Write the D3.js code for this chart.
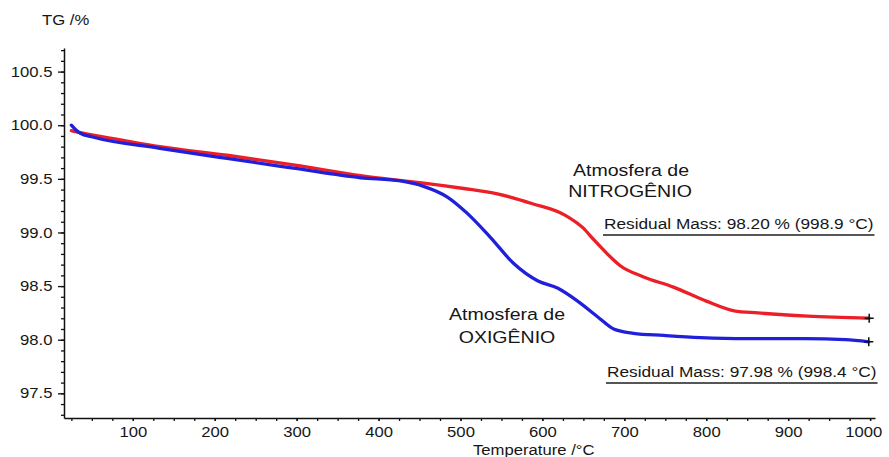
<!DOCTYPE html>
<html>
<head>
<meta charset="utf-8">
<script src="https://cdn.jsdelivr.net/npm/d3@7/dist/d3.min.js"></script>
<style>
  html, body { margin: 0; padding: 0; background: #fff; }
  svg { display: block; font-family: "Liberation Sans", Arial, Helvetica, sans-serif; }
  text { fill: #161616; }
</style>
</head>
<body>
<svg id="chart" width="889" height="457"></svg>
<script>
// TG curves: mass (%) against temperature (°C) in two atmospheres
const nitrogenTemp = [25, 30, 36, 50, 80, 133, 215, 296, 378, 420, 455, 504, 545, 587, 628, 650, 663, 678, 695, 722, 760, 800, 834, 863, 924, 998.9];
const nitrogenMass = [99.95, 99.94, 99.93, 99.91, 99.87, 99.80, 99.72, 99.63, 99.53, 99.49, 99.46, 99.41, 99.36, 99.27, 99.16, 99.04, 98.93, 98.81, 98.69, 98.59, 98.49, 98.36, 98.27, 98.25, 98.22, 98.20];

const oxygenTemp = [25, 30, 36, 51, 133, 215, 296, 378, 427, 455, 484, 508, 537, 565, 594, 619, 643, 668, 687, 711, 748, 793, 850, 920, 970, 998.4];
const oxygenMass = [100.00, 99.96, 99.925, 99.89, 99.785, 99.69, 99.60, 99.51, 99.48, 99.43, 99.33, 99.18, 98.95, 98.71, 98.55, 98.48, 98.36, 98.21, 98.10, 98.06, 98.04, 98.02, 98.01, 98.01, 98.00, 97.98];

// residual mass readouts at the end of each run
const residualTemp = [998.9, 998.4];
const residualMass = [98.20, 97.98];

const tempTicks = [100, 200, 300, 400, 500, 600, 700, 800, 900, 1000];
const massTicks = [97.5, 98.0, 98.5, 99.0, 99.5, 100.0, 100.5];

const STRETCH = 1.15;
const svg = d3.select("#chart");

const x = d3.scaleLinear().domain([16, 1006]).range([64, 875]);
const y = d3.scaleLinear().domain([97.27, 100.72]).range([418, 48]);

// minor ticks
const tempMinor = d3.range(25, 1001, 25);
const massMinor = d3.range(973, 1008).map(v => v / 10);

svg.append("g")
  .attr("transform", `translate(0,${y.range()[0]})`)
  .call(d3.axisBottom(x).tickValues(tempMinor).tickSize(3).tickSizeOuter(0).tickFormat(""))
  .call(g => g.select(".domain").remove())
  .call(g => g.selectAll("line").attr("stroke", "#111").attr("stroke-width", 1.3));

svg.append("g")
  .attr("transform", `translate(${x.range()[0]},0)`)
  .call(d3.axisLeft(y).tickValues(massMinor).tickSize(3).tickSizeOuter(0).tickFormat(""))
  .call(g => g.select(".domain").remove())
  .call(g => g.selectAll("line").attr("stroke", "#111").attr("stroke-width", 1.3));

// major axes
const xAxis = svg.append("g")
  .attr("transform", `translate(0,${y.range()[0]})`)
  .call(d3.axisBottom(x).tickValues(tempTicks).tickSize(3).tickSizeOuter(0).tickPadding(6).tickFormat(d3.format("d")));
xAxis.selectAll("text")
  .style("font-size", "14.5px")
  .attr("fill", "#161616")
  .attr("transform", `scale(${STRETCH},1)`)
  .attr("x", d => d === 1000 ? -6 : 0);

const yAxis = svg.append("g")
  .attr("transform", `translate(${x.range()[0]},0)`)
  .call(d3.axisLeft(y).tickValues(massTicks).tickSize(6).tickSizeOuter(0).tickPadding(4).tickFormat(d3.format(".1f")));
yAxis.selectAll("text")
  .style("font-size", "14.5px")
  .attr("fill", "#161616")
  .attr("transform", `scale(${STRETCH},1)`);

[xAxis, yAxis].forEach(a => {
  a.select(".domain").attr("stroke", "#111").attr("stroke-width", 1.5);
  a.selectAll("line").attr("stroke", "#111").attr("stroke-width", 1.3);
});

function label(px, py, str, size, anchor) {
  return svg.append("text")
    .attr("transform", `translate(${px},${py}) scale(${STRETCH},1)`)
    .attr("text-anchor", anchor || "start")
    .style("font-size", size + "px")
    .text(str);
}

// axis titles
label(42, 25, "TG /%", 14.5);
label(473, 455, "Temperature /°C", 14.5);

// curves
const line = d3.line()
  .x(d => x(d[0]))
  .y(d => y(d[1]))
  .curve(d3.curveMonotoneX);

const series = [
  { temp: nitrogenTemp, mass: nitrogenMass, color: "#ec1f27" },
  { temp: oxygenTemp, mass: oxygenMass, color: "#1f1fdc" }
];

series.forEach(s => {
  svg.append("path")
    .datum(s.temp.map((t, i) => [t, s.mass[i]]))
    .attr("fill", "none")
    .attr("stroke", s.color)
    .attr("stroke-width", 3.3)
    .attr("stroke-linejoin", "round")
    .attr("stroke-linecap", "round")
    .attr("d", line);
});

// end-point markers
residualTemp.forEach((t, i) => {
  const cx = x(t), cy = y(residualMass[i]);
  svg.append("path")
    .attr("d", `M${cx - 4.5},${cy}H${cx + 4.5}M${cx},${cy - 4.5}V${cy + 4.5}`)
    .attr("stroke", "#111")
    .attr("stroke-width", 1.5);
});

// atmosphere annotations
label(631, 176, "Atmosfera de", 17, "middle");
label(630, 197, "NITROGÊNIO", 17, "middle");
label(507, 320, "Atmosfera de", 17, "middle");
label(507, 343, "OXIGÊNIO", 17, "middle");

// residual mass readouts
const fmtMass = d3.format(".2f"), fmtTemp = d3.format(".1f");
const readouts = [
  { x0: 604, base: 229, line: 235 },
  { x0: 607, base: 377, line: 383 }
];
readouts.forEach((r, i) => {
  const txt = label(r.x0, r.base,
    `Residual Mass: ${fmtMass(residualMass[i])} % (${fmtTemp(residualTemp[i])} °C)`, 15);
  const w = txt.node().getComputedTextLength() * STRETCH;
  svg.append("line")
    .attr("x1", r.x0 - 1).attr("x2", r.x0 + w + 1)
    .attr("y1", r.line).attr("y2", r.line)
    .attr("stroke", "#1e1e1e").attr("stroke-width", 1.4);
});
</script>
</body>
</html>
